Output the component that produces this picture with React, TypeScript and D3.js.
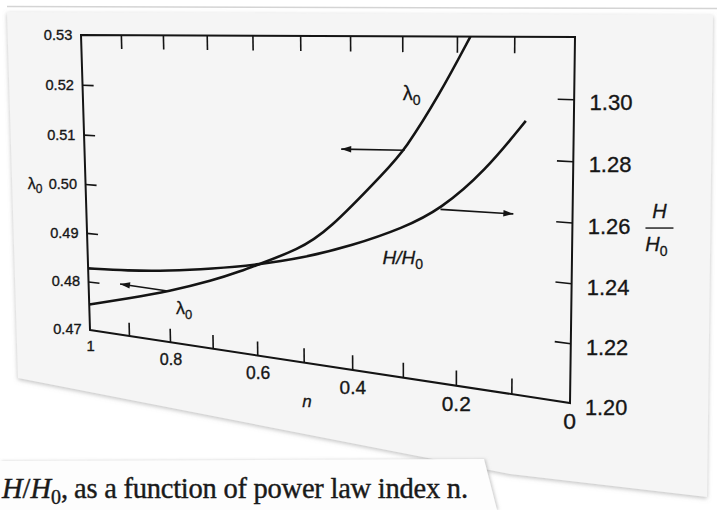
import React from 'react';
import * as d3 from 'd3';

// power law index n, and the two curves
const lambdaN = [1.0, 0.9, 0.8, 0.7, 0.63, 0.6, 0.51, 0.45, 0.33, 0.297, 0.232, 0.177];
const lambdaVals = [0.4753, 0.4777, 0.4802, 0.4833, 0.486, 0.4873, 0.4911, 0.4948, 0.5069, 0.5104, 0.5202, 0.53];
const ratioN = [1.0, 0.9, 0.8, 0.7, 0.6, 0.5, 0.4, 0.3, 0.23, 0.15, 0.08];
const ratioVals = [1.2256, 1.2266, 1.2285, 1.2313, 1.2347, 1.2392, 1.2455, 1.2535, 1.2611, 1.2752, 1.2926];

const nTicks = [1, 0.9, 0.8, 0.7, 0.6, 0.5, 0.4, 0.3, 0.2, 0.1, 0];
const nLabels = ['1', '0.8', '0.6', '0.4', '0.2', '0'];
const nLabelVals = [1, 0.8, 0.6, 0.4, 0.2, 0];
const lambdaTicks = [0.47, 0.48, 0.49, 0.5, 0.51, 0.52, 0.53];
const lambdaLabels = ['0.47', '0.48', '0.49', '0.50', '0.51', '0.52', '0.53'];
const ratioTicks = [1.2, 1.22, 1.24, 1.26, 1.28, 1.3];
const ratioLabels = ['1.20', '1.22', '1.24', '1.26', '1.28', '1.30'];

const W = 717;
const H = 510;
const ink = '#141414';

// the scanned page is seen in perspective: map the unit square onto the frame's four corners
function homography(bl: number[], br: number[], tr: number[], tl: number[]) {
  const [x0, y0] = bl, [x1, y1] = br, [x2, y2] = tr, [x3, y3] = tl;
  const dx1 = x1 - x2, dx2 = x3 - x2, dx3 = x0 - x1 + x2 - x3;
  const dy1 = y1 - y2, dy2 = y3 - y2, dy3 = y0 - y1 + y2 - y3;
  const den = dx1 * dy2 - dx2 * dy1;
  const g = (dx3 * dy2 - dx2 * dy3) / den;
  const h = (dx1 * dy3 - dx3 * dy1) / den;
  const a = x1 - x0 + g * x1, b = x3 - x0 + h * x3, c = x0;
  const d = y1 - y0 + g * y1, e = y3 - y0 + h * y3, f = y0;
  return (u: number, v: number): [number, number] => {
    const w = g * u + h * v + 1;
    return [(a * u + b * v + c) / w, (d * u + e * v + f) / w];
  };
}

const P = homography([90, 330], [570, 403], [575, 37], [81, 35]);
const uScale = d3.scaleLinear().domain([1, 0]).range([0, 1]);
const vLeft = d3.scaleLinear().domain([0.47, 0.53]).range([0, 1]);
const vRight = d3.scaleLinear().domain([1.2, 1.32]).range([0, 1]);

// local horizontal magnification, used to size text like the photo does
function scaleAt(u: number, v: number) {
  const [ax, ay] = P(u, v);
  const [bx, by] = P(u + 0.005, v);
  return Math.hypot(bx - ax, by - ay) / 0.005;
}

const line = d3.line<[number, number]>().curve(d3.curveBasis);

function arrowHead(from: [number, number], tip: [number, number], len = 10, half = 3.2) {
  const dx = tip[0] - from[0], dy = tip[1] - from[1];
  const l = Math.hypot(dx, dy);
  const ux = dx / l, uy = dy / l;
  const bx = tip[0] - ux * len, by = tip[1] - uy * len;
  return `M${tip[0]},${tip[1]}L${bx - uy * half},${by + ux * half}L${bx + uy * half},${by - ux * half}Z`;
}

export default function App() {
  const lamPts = lambdaN.map((n, i) => P(uScale(n), vLeft(lambdaVals[i])));
  const ratPts = ratioN.map((n, i) => P(uScale(n), vRight(ratioVals[i])));

  const frame = [P(0, 0), P(1, 0), P(1, 1), P(0, 1)];

  const inner = nTicks.filter(n => n > 0 && n < 1);
  const topTicks = inner.map(n => [P(uScale(n), 1), P(uScale(n), 1 - 0.045)]);
  const botTicks = inner.map(n => [P(uScale(n), 0), P(uScale(n), 0.045)]);
  const leftTicks = lambdaTicks.slice(1, -1).map(t => [P(0, vLeft(t)), P(0.028, vLeft(t))]);
  const rightTicks = ratioTicks.slice(1).map(t => [P(1, vRight(t)), P(1 - 0.027, vRight(t))]);

  const arrows = [
    { from: P(uScale(0.297), vLeft(0.5104)), to: P(uScale(0.42), vLeft(0.51)) },
    { from: P(uScale(0.23), vRight(1.2611)), to: P(uScale(0.1), vRight(1.2615)) },
    { from: P(uScale(0.8), vLeft(0.4802)), to: P(uScale(0.92), vLeft(0.4804)) },
  ];

  const upLam = P(uScale(0.3), vLeft(0.519));
  const lowLam = P(uScale(0.785), vLeft(0.4759));
  const ratLab = P(uScale(0.34), vRight(1.24));
  const nLab = P(0.505, -0.14);
  const leftTitle = P(0, 0.5);
  const rightTitle = P(1, 0.5);

  const sans = 'Liberation Sans, Arial, sans-serif';
  const serif = 'Liberation Serif, Times New Roman, serif';
  const txt = '#161616';

  return (
    <svg width={W} height={H} style={{ position: 'fixed', left: 0, top: 0 }}>
      <defs>
        <filter id="shadow" x="-5%" y="-5%" width="110%" height="115%">
          <feDropShadow dx="0" dy="1.5" stdDeviation="2" floodColor="#8a8a8a" floodOpacity="0.55" />
        </filter>
        <filter id="shadow2" x="-5%" y="-20%" width="110%" height="140%">
          <feDropShadow dx="1.5" dy="0" stdDeviation="1.5" floodColor="#999" floodOpacity="0.5" />
        </filter>
      </defs>
      <rect width={W} height={H} fill="#ffffff" />
      <line x1={7} y1={6.5} x2={717} y2={8.5} stroke="#d4d4d4" strokeWidth={1.5} />
      <polygon points="7,12 713,15 707,497 510,474 18,378" fill="#f5f5f5" filter="url(#shadow)" />

      {/* frame and ticks */}
      <path d={`M${frame.map(p => p.join(',')).join('L')}Z`} fill="none" stroke={ink} strokeWidth={2} />
      {[...topTicks, ...botTicks, ...leftTicks, ...rightTicks].map((t, i) => (
        <line key={i} x1={t[0][0]} y1={t[0][1]} x2={t[1][0]} y2={t[1][1]} stroke={ink} strokeWidth={1.6} />
      ))}

      {/* tick labels */}
      <g fill={txt} stroke={txt} strokeWidth={0.35} fontFamily={sans}>
        {lambdaTicks.map((t, i) => {
          const [x, y] = P(-0.022, vLeft(t));
          const fs = 0.037 * scaleAt(0, vLeft(t));
          return (
            <text key={'l' + i} x={x} y={y + fs * 0.36} fontSize={fs} textAnchor="end">
              {lambdaLabels[i]}
            </text>
          );
        })}
        {ratioTicks.map((t, i) => {
          const [x, y] = P(1.025, vRight(t));
          const fs = 0.036 * scaleAt(1, vRight(t));
          return (
            <text key={'r' + i} x={x} y={y + fs * 0.36 + 1.5} fontSize={fs}>
              {ratioLabels[i]}
            </text>
          );
        })}
        {nLabelVals.map((n, i) => {
          const [x, y] = P(uScale(n), -0.075);
          const fs = 0.038 * scaleAt(uScale(n), 0);
          return (
            <text key={'b' + i} x={x} y={y} fontSize={fs} textAnchor="middle">
              {nLabels[i]}
            </text>
          );
        })}
      </g>

      {/* curves */}
      <path d={line(lamPts) || ''} fill="none" stroke={ink} strokeWidth={2.6} />
      <path d={line(ratPts) || ''} fill="none" stroke={ink} strokeWidth={2.6} />

      {arrows.map((a, i) => (
        <g key={'a' + i}>
          <line x1={a.from[0]} y1={a.from[1]} x2={a.to[0]} y2={a.to[1]} stroke={ink} strokeWidth={1.6} />
          <path d={arrowHead(a.from, a.to)} fill={ink} />
        </g>
      ))}

      {/* annotations */}
      <g fill={txt} stroke={txt} strokeWidth={0.3} fontFamily={sans}>
        <text x={upLam[0]} y={upLam[1]} fontSize={20}>
          λ<tspan dy={5} fontSize={14}>0</tspan>
        </text>
        <text x={lowLam[0]} y={lowLam[1]} fontSize={18}>
          λ<tspan dy={5} fontSize={13}>0</tspan>
        </text>
        <text x={ratLab[0]} y={ratLab[1]} fontSize={19} fontStyle="italic">
          H/H<tspan dy={5} fontSize={14} fontStyle="normal">0</tspan>
        </text>
        <text x={nLab[0]} y={nLab[1]} fontSize={17} fontStyle="italic" textAnchor="middle">
          n
        </text>
        <text x={leftTitle[0] - 43} y={leftTitle[1] + 5} fontSize={16} textAnchor="end">
          λ<tspan dy={4} fontSize={12}>0</tspan>
        </text>
        <g transform={`translate(${rightTitle[0] + 87},${rightTitle[1] + 5})`}>
          <text x={0} y={-10} fontSize={20} fontStyle="italic" textAnchor="middle">H</text>
          <line x1={-14} x2={14} y1={0} y2={0} strokeWidth={1.4} />
          <text x={-3} y={23} fontSize={20} fontStyle="italic" textAnchor="middle">
            H<tspan dy={5} fontSize={14} fontStyle="normal">0</tspan>
          </text>
        </g>
      </g>

      {/* caption strip */}
      <polygon points="0,461 484,459 497,510 0,510" fill="#fdfdfd" filter="url(#shadow2)" />
      <g fill="#1a1a1a" stroke="#1a1a1a" strokeWidth={0.4} fontFamily={serif} fontSize={28.5}>
        <text x={2} y={498}>
          <tspan fontStyle="italic">H</tspan>/<tspan fontStyle="italic">H</tspan>
          <tspan dy={6} fontSize={20}>0</tspan>
          <tspan dy={-6}>,</tspan>
        </text>
        <text x={74} y={498} textLength={394} lengthAdjust="spacing">
          as a function of power law index n.
        </text>
      </g>
    </svg>
  );
}
